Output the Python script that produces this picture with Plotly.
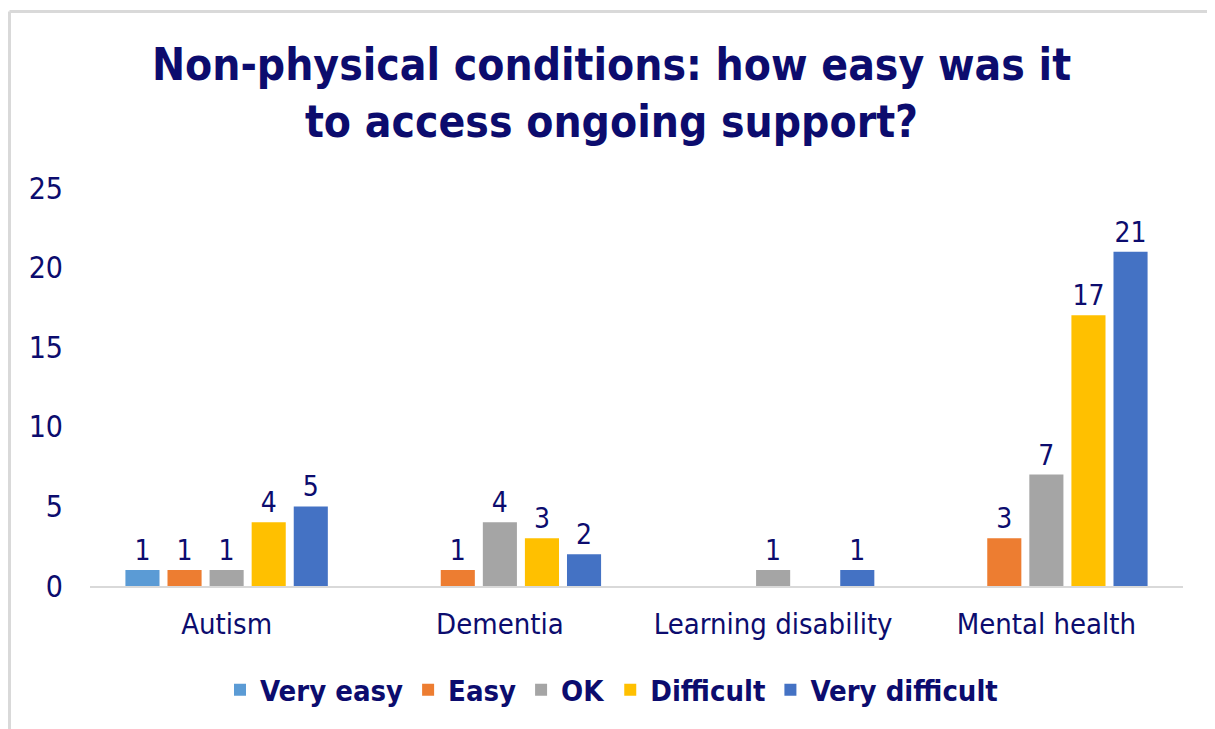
import plotly.graph_objects as go

categories = ["Autism", "Dementia", "Learning disability", "Mental health"]
series_names = ["Very easy", "Easy", "OK", "Difficult", "Very difficult"]
very_easy = [1, None, None, None]
easy = [1, 1, None, 3]
ok = [1, 4, 1, 7]
difficult = [4, 3, None, 17]
very_difficult = [5, 2, 1, 21]
colors = ["#5B9BD5", "#ED7D31", "#A5A5A5", "#FFC000", "#4472C4"]
y_ticks = [0, 5, 10, 15, 20, 25]

navy = "#0c0c6e"
font_family = "DejaVu Sans Condensed, DejaVu Sans, sans-serif"

fig = go.Figure()
for name, vals, col in zip(series_names, [very_easy, easy, ok, difficult, very_difficult], colors):
    fig.add_trace(go.Bar(
        name=name, x=categories, y=vals, marker_color=col,
        marker_line_width=0,
        text=[("" if v is None else str(v)) for v in vals],
        textposition="outside", cliponaxis=False,
        textfont=dict(size=28, color=navy, family=font_family),
    ))

# page body has an 8px margin, so the figure sits at (8, 8) in the window
OFF = 8
W, H = 1215 - OFF, 729 - OFF
ml, mr, mt, mb = 90 - OFF, 32, 188 - OFF, 143
pw, ph = W - ml - mr, H - mt - mb

def px_x(x):
    return (x - OFF - ml) / pw

def px_y(y):
    return (H - mb - (y - OFF)) / ph

fig.update_layout(
    width=W, height=H,
    margin=dict(l=ml, r=mr, t=mt, b=mb),
    paper_bgcolor="white", plot_bgcolor="white",
    barmode="group", bargap=0.23, bargroupgap=0.19,
    title=dict(
        text="<b>Non-physical conditions: how easy was it<br>to access ongoing support?</b>",
        x=0.5, xref="container", xanchor="center",
        y=1 - (80 - OFF) / H, yref="container", yanchor="middle",
        font=dict(size=44, color=navy, family=font_family),
    ),
    font=dict(family=font_family, color=navy),
    legend=dict(
        orientation="h", x=0.5, xanchor="center", xref="container",
        y=1 - (690 - OFF) / H, yref="container", yanchor="middle",
        font=dict(size=29, color=navy, family=font_family, weight="bold"),
        itemwidth=30, traceorder="normal",
    ),
    showlegend=True,
    xaxis=dict(
        showline=True, linecolor="#d9d9d9", linewidth=2,
        showgrid=False, ticks="", tickfont=dict(size=29, color=navy),
        ticklabelstandoff=11,
    ),
    yaxis=dict(
        range=[0, 25], tickvals=y_ticks, showgrid=False, zeroline=False,
        showline=False, ticks="", tickfont=dict(size=30, color=navy),
        ticklabelstandoff=26,
    ),
    shapes=[
        dict(type="line", xref="paper", yref="paper",
             x0=px_x(9.5), x1=px_x(1215), y0=px_y(11.5), y1=px_y(11.5),
             line=dict(color="#d9d9d9", width=3)),
        dict(type="line", xref="paper", yref="paper",
             x0=px_x(9.5), x1=px_x(9.5), y0=px_y(11.5), y1=px_y(729),
             line=dict(color="#d9d9d9", width=3)),
    ],
)

fig.write_html("out.html")
